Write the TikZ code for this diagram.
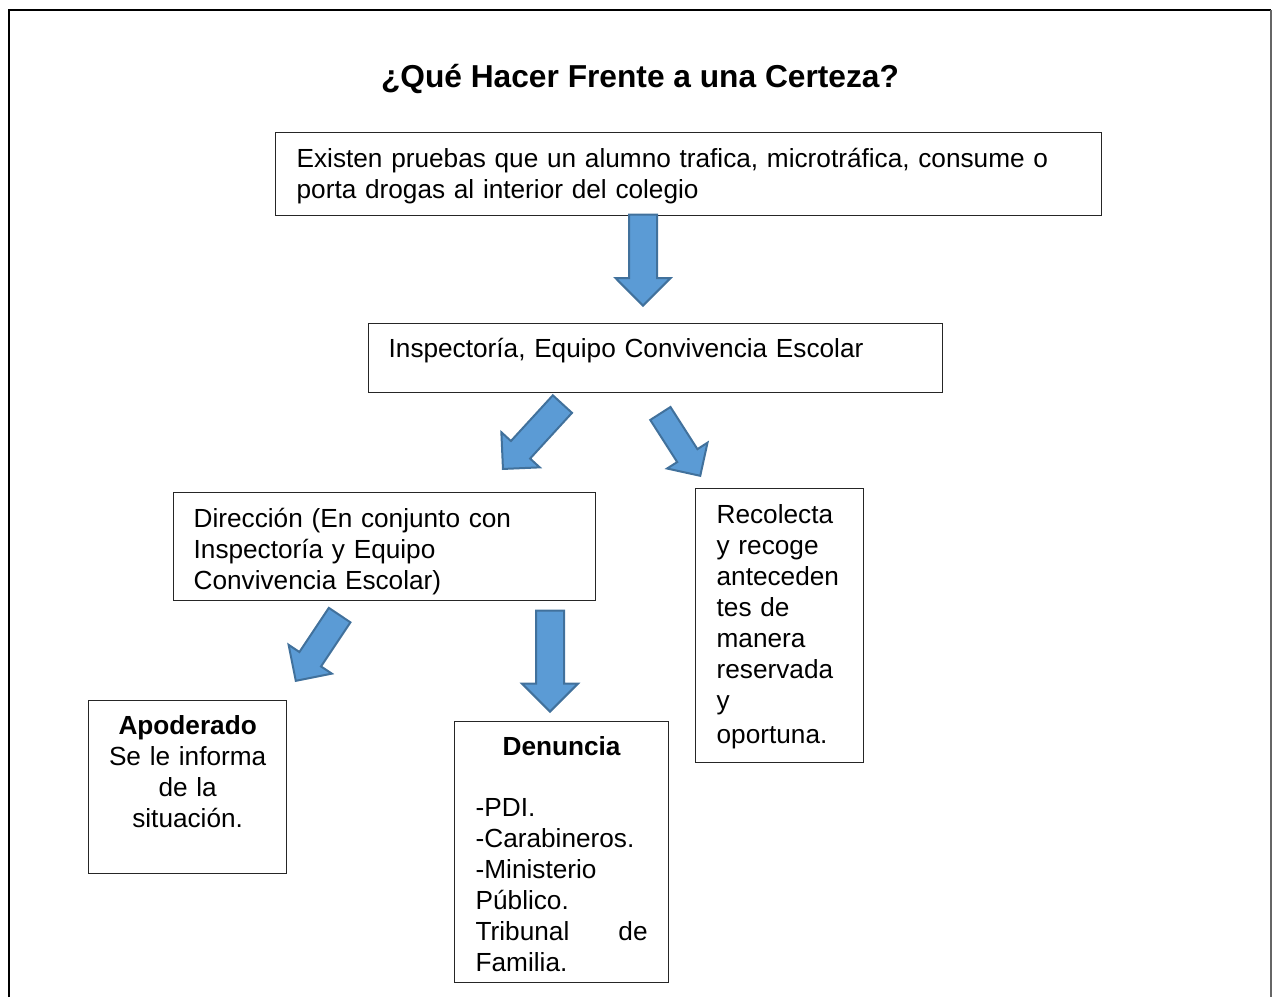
\documentclass[tikz,border=0pt]{standalone}
\usepackage{fontspec}
\setmainfont{Liberation Sans}
\usepackage{tikz}
\usetikzlibrary{shapes.arrows, positioning}
\definecolor{flechafill}{HTML}{5B9BD5}
\definecolor{flechaborde}{HTML}{41719C}
\tikzset{
    caja/.style ={rectangle, draw=black!85, line width=1.3pt, anchor=north west,
                  inner ysep=0pt, align=left, font=\fontsize{26.2}{31}\selectfont},
    flecha/.style ={single arrow, draw=flechaborde, fill=flechafill, line width=2pt,
                    inner xsep=0pt, minimum width=0pt, anchor=tip},
    titulo/.style ={anchor=base, font=\fontsize{31.7}{36}\selectfont\bfseries}
}

\begin{document}
\begin{tikzpicture}[
      x=1pt, y=-1pt % one unit is one pixel, y grows downward
    ]
    \useasboundingbox (0,0) rectangle (1272,997);

    % frame
    \draw[line width=2.5pt] (9,997) -- (9,10) -- (1271,10);
    \draw[line width=2pt, black!60] (1271,10) -- (1271,997);

    \node[titulo] (t) at (640,87) {¿Qué Hacer Frente a una Certeza?};

    \node[caja, inner xsep=21pt, text width=784pt, text height=35pt, text depth=48pt]
        (pruebas) at (275,132)
        {Existen pruebas que un alumno trafica, microtráfica, consume o\\
         porta drogas al interior del colegio};

    \node[caja, inner xsep=20pt, text width=534pt, text height=34pt, text depth=35pt]
        (inspectoria) at (368,323) {Inspectoría, Equipo Convivencia Escolar};

    \node[caja, inner xsep=20pt, text width=382pt, text height=35pt, text depth=73pt]
        (direccion) at (173,492)
        {Dirección (En conjunto con\\ Inspectoría y Equipo\\ Convivencia Escolar)};

    \node[caja, inner xsep=21pt, text width=126pt, text height=35pt, text depth=239pt]
        (recolecta) at (695,488)
        {Recolecta\\ y recoge\\ anteceden\\ tes de\\ manera\\ reservada\\ y\\[3pt] oportuna.};

    \node[caja, align=center, inner xsep=10pt, text width=178pt, text height=34pt, text depth=139pt]
        (apoderado) at (88,700)
        {\textbf{Apoderado}\\ Se le informa\\ de la\\ situación.};

    \node[caja, inner xsep=21pt, text width=172pt, text height=34pt, text depth=227pt]
        (denuncia) at (454,721)
        {\hfill\textbf{Denuncia}\hfill\mbox{}\\[30pt]
         -PDI.\\ -Carabineros.\\ -Ministerio\\ Público.\\ Tribunal\hfill de\\ Familia.};

    % block arrows
    \node[flecha, rotate=-90, minimum height=91pt, inner ysep=13pt,
          single arrow head extend=13.5pt] (f1) at (643,307) {};
    \node[flecha, rotate=227.5, minimum height=88pt, inner ysep=12pt,
          single arrow head extend=13pt] (f2) at (502,470) {};
    \node[flecha, rotate=-57.4, minimum height=74pt, inner ysep=11pt,
          single arrow head extend=12pt] (f3) at (701,477) {};
    \node[flecha, rotate=236.3, minimum height=79pt, inner ysep=12pt,
          single arrow head extend=13pt] (f4) at (295,682) {};
    \node[flecha, rotate=-90, minimum height=101pt, inner ysep=13pt,
          single arrow head extend=14pt] (f5) at (550,713) {};
\end{tikzpicture}
\end{document}
